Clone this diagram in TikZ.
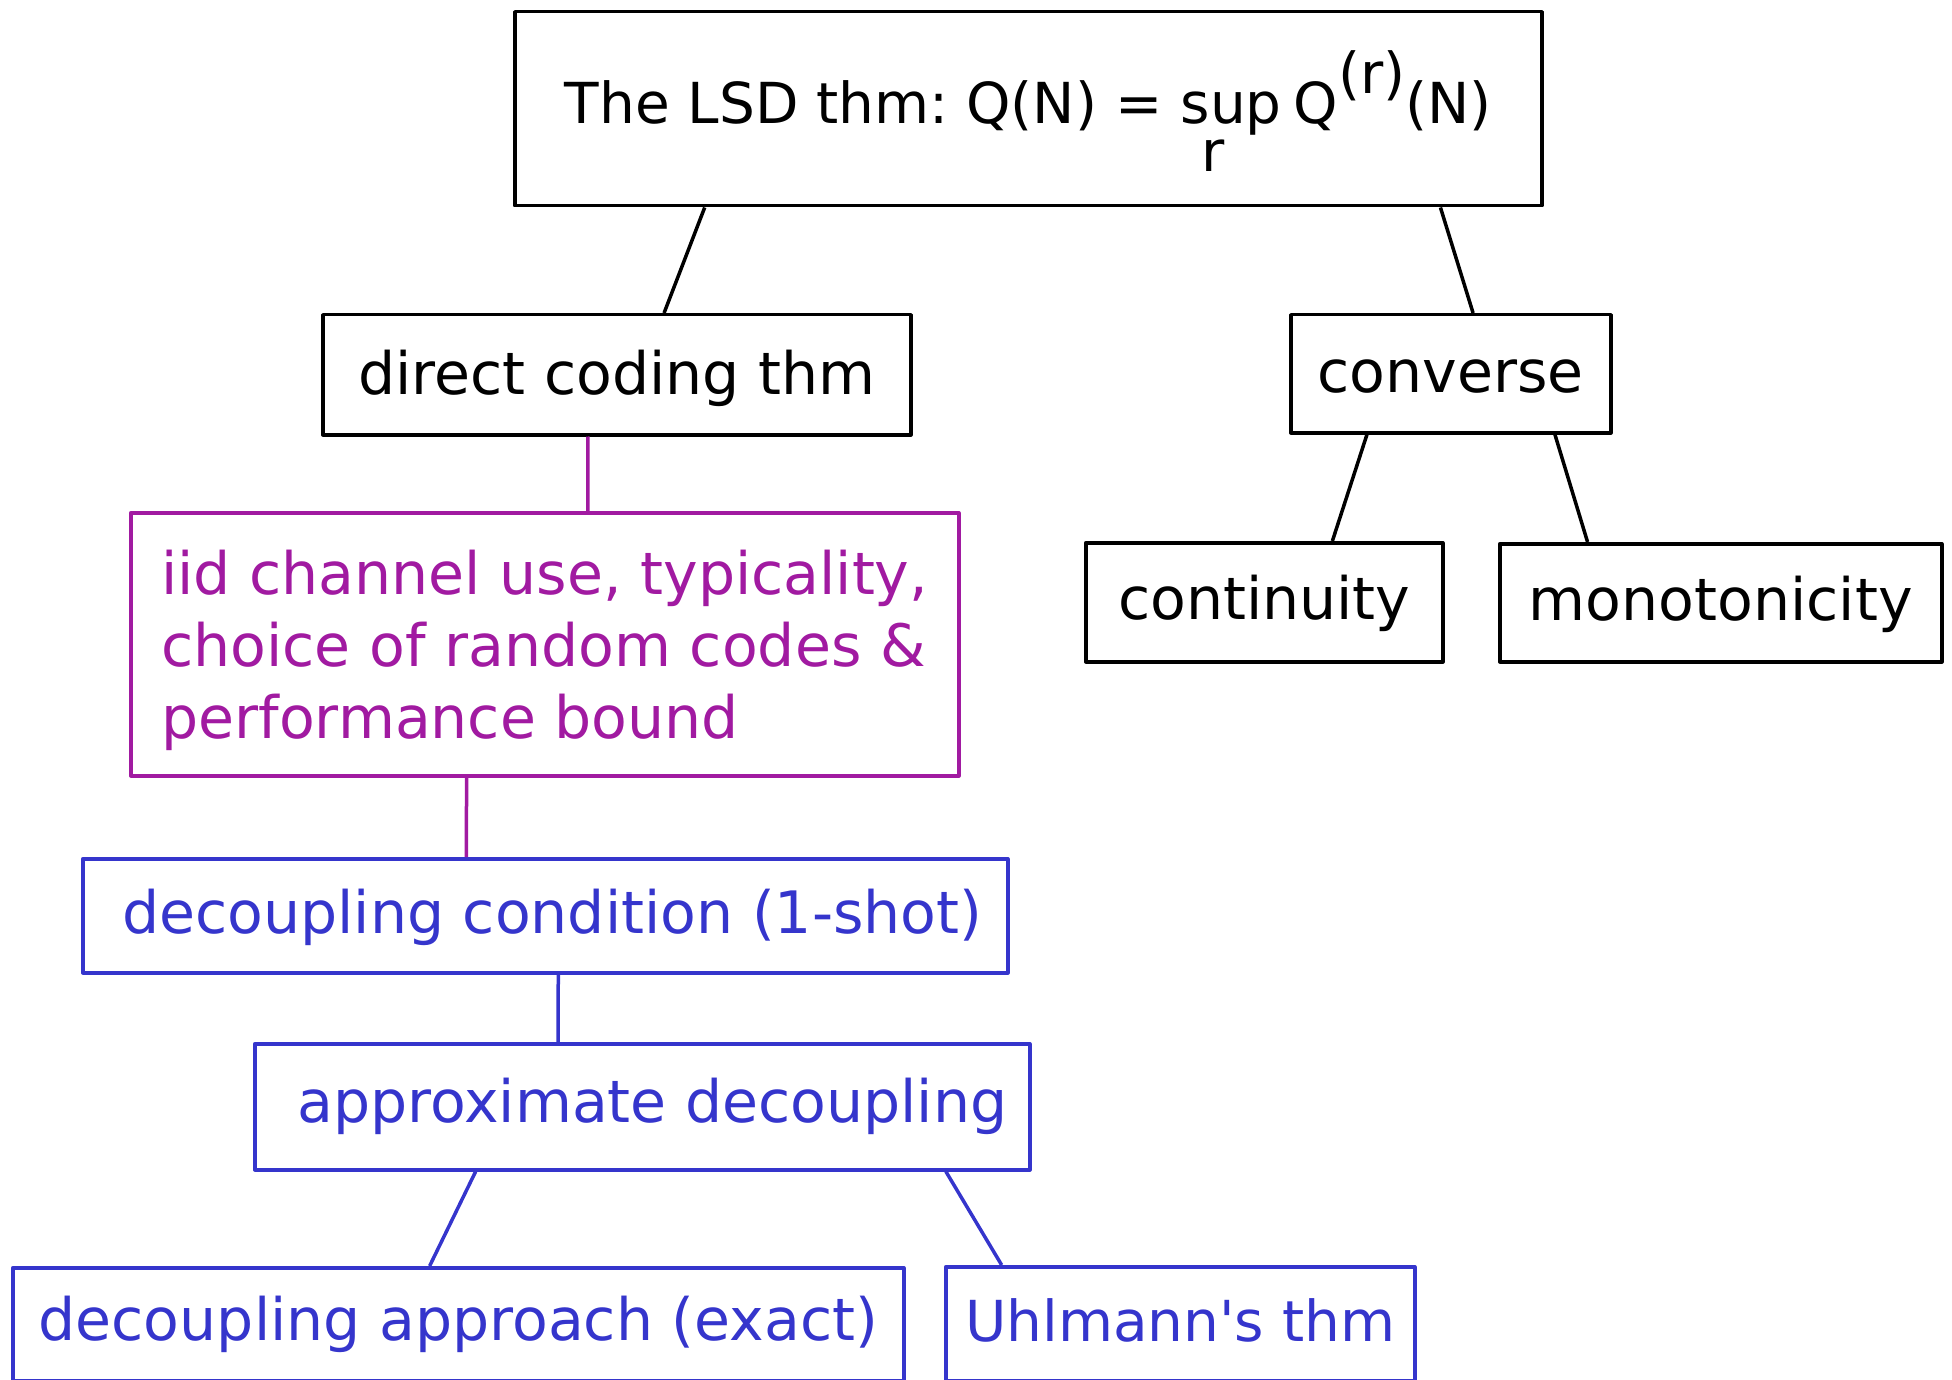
\documentclass[tikz,border=0pt]{standalone}
\usepackage{fontspec}
\setmainfont{DejaVu Sans}[Ligatures=TeXOff]
\usetikzlibrary{calc}
\definecolor{fpurple}{RGB}{161,26,161}
\definecolor{fblue}{RGB}{53,53,204}
\tikzset{
  box/.style={draw, rectangle, line width=3.5pt, inner sep=0pt, anchor=north west,
    font=\frenchspacing\fontsize{58.5pt}{72pt}\selectfont, line join=round},
  smallfont/.style={font=\frenchspacing\fontsize{56.5pt}{70pt}\selectfont},
  link/.style={line width=3.5pt},
}
\begin{document}
\begin{tikzpicture}[x=1pt,y=-1pt]
\useasboundingbox (0,0) rectangle (1952,1380);
% black boxes
\node[box, smallfont, minimum width=1027pt, text height=112pt, text depth=82pt] (lsd) at (513,10)
  {The LSD thm: Q(N) = \ooalign{sup\cr\hidewidth\raisebox{-48pt}{r}\hskip 36pt\hidewidth\cr}\hskip 12pt Q\raisebox{30pt}{(r)}(N)};
\node[box, minimum width=588pt, text height=80pt, text depth=40pt] (direct) at (321,313) {direct coding thm};
\node[box, minimum width=320pt, text height=78pt, text depth=40pt] (conv) at (1289,313) {converse};
\node[box, minimum width=357pt, text height=77pt, text depth=42pt] (cont) at (1084,541) {continuity};
\node[box, minimum width=442pt, text height=77pt, text depth=41pt] (mono) at (1498,542) {monotonicity};
% purple box
\node[box, draw=fpurple, text=fpurple, minimum width=828pt, text height=82pt, text depth=181pt] (iid) at (129,511)
  {\vtop{\baselineskip=72pt\hbox{iid channel use, typicality,}\hbox{choice of random codes \&}\hbox{performance bound}}};
% blue boxes
\node[box, draw=fblue, text=fblue, minimum width=925pt, text height=75pt, text depth=39pt] (cond) at (81,857)
  {\hspace*{14pt}decoupling condition (1-shot)};
\node[box, draw=fblue, text=fblue, minimum width=775pt, text height=79pt, text depth=47pt] (approx) at (253,1042)
  {\hspace*{20pt}approximate decoupling};
\node[box, draw=fblue, text=fblue, minimum width=891pt, text height=73pt, text depth=40pt] (exact) at (11,1266)
  {decoupling approach (exact)};
\node[box, smallfont, draw=fblue, text=fblue, minimum width=469pt, text height=75pt, text depth=39pt] (uhl) at (944,1265)
  {Uhlmann's thm};
% connectors
\draw[link] ($(lsd.south west)!0.186!(lsd.south east)$) -- ($(direct.north west)!0.580!(direct.north east)$);
\draw[link] ($(lsd.south west)!0.900!(lsd.south east)$) -- ($(conv.north west)!0.569!(conv.north east)$);
\draw[link] ($(conv.south west)!0.241!(conv.south east)$) -- ($(cont.north west)!0.689!(cont.north east)$);
\draw[link] ($(conv.south west)!0.822!(conv.south east)$) -- ($(mono.north west)!0.201!(mono.north east)$);
\draw[link, fpurple] ($(direct.south west)!0.451!(direct.south east)$) -- ($(iid.north west)!0.552!(iid.north east)$);
\draw[link, fpurple] ($(iid.south west)!0.406!(iid.south east)$) -- ($(cond.north west)!0.415!(cond.north east)$);
\draw[link, fblue] ($(cond.south west)!0.514!(cond.south east)$) -- ($(approx.north west)!0.392!(approx.north east)$);
\draw[link, fblue] ($(approx.south west)!0.286!(approx.south east)$) -- ($(exact.north west)!0.468!(exact.north east)$);
\draw[link, fblue] ($(approx.south west)!0.890!(approx.south east)$) -- ($(uhl.north west)!0.122!(uhl.north east)$);
\end{tikzpicture}
\end{document}
